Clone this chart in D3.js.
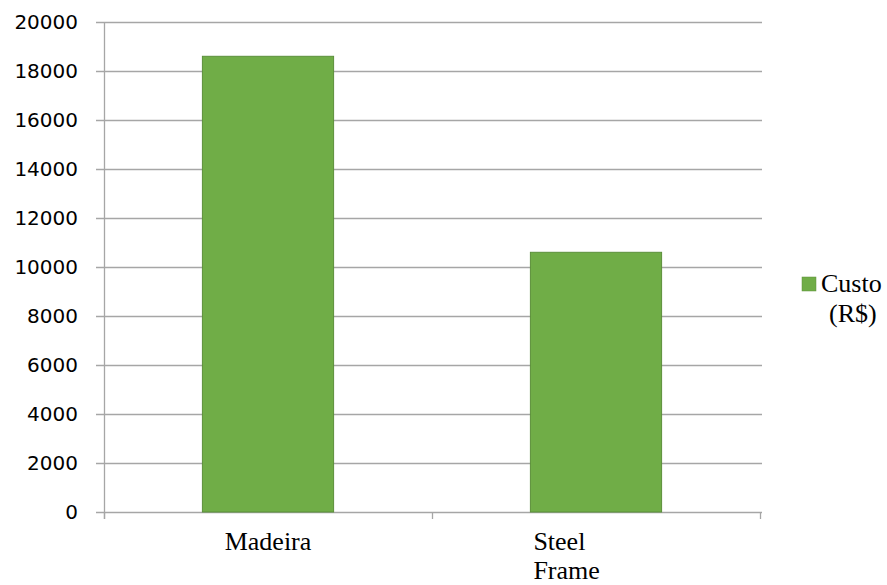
<!DOCTYPE html>
<html>
<head>
<meta charset="utf-8">
<script src="https://cdn.jsdelivr.net/npm/d3@7"></script>
<style>
  body { margin: 0; background: #fff; }
  svg { display: block; }
</style>
</head>
<body>
<div id="chart"></div>
<script>
const categories = [["Madeira"], ["Steel", "Frame"]]
const costs = [18600, 10600]
const yTicks = [0, 2000, 4000, 6000, 8000, 10000, 12000, 14000, 16000, 18000, 20000]
const seriesName = ["Custo", "(R$)"]

const width = 887
const height = 585
const margin = { left: 104, right: 127, top: 22, bottom: 73 }

const svg = d3.select("#chart")
  .append("svg")
  .attr("width", width)
  .attr("height", height)

const x = d3.scaleBand()
  .domain(categories.map((d, i) => i))
  .range([margin.left, width - margin.right])
  .padding(0)

const y = d3.scaleLinear()
  .domain([0, 20000])
  .range([height - margin.bottom, margin.top])

const gridColor = "#a6a6a6"

// gridlines (with the little tick stub left of the axis)
svg.append("g")
  .selectAll("line")
  .data(yTicks)
  .join("line")
  .attr("x1", margin.left - 8)
  .attr("x2", width - margin.right + 2)
  .attr("y1", d => Math.round(y(d)) + 0.5)
  .attr("y2", d => Math.round(y(d)) + 0.5)
  .attr("stroke", gridColor)
  .attr("stroke-width", 1.3)

// y axis line
svg.append("line")
  .attr("x1", margin.left + 0.5)
  .attr("x2", margin.left + 0.5)
  .attr("y1", y(20000))
  .attr("y2", y(0) + 7)
  .attr("stroke", gridColor)
  .attr("stroke-width", 1.3)

// category ticks
const edges = [margin.left].concat(categories.map((d, i) => x(i) + x.bandwidth()))
svg.append("g")
  .selectAll("line")
  .data(edges)
  .join("line")
  .attr("x1", d => Math.round(d) + 0.5)
  .attr("x2", d => Math.round(d) + 0.5)
  .attr("y1", y(0))
  .attr("y2", y(0) + 7)
  .attr("stroke", gridColor)
  .attr("stroke-width", 1.3)

// y tick labels
svg.append("g")
  .selectAll("text")
  .data(yTicks)
  .join("text")
  .attr("x", 78)
  .attr("y", d => y(d))
  .attr("dy", "0.36em")
  .attr("text-anchor", "end")
  .attr("font-family", "'DejaVu Sans', sans-serif")
  .attr("font-size", "20px")
  .attr("fill", "#000")
  .text(d => d)

// bars
const barW = x.bandwidth() * 0.4
svg.append("g")
  .selectAll("rect")
  .data(costs)
  .join("rect")
  .attr("x", (d, i) => x(i) + (x.bandwidth() - barW) / 2)
  .attr("y", d => y(d))
  .attr("width", barW)
  .attr("height", d => y(0) - y(d))
  .attr("fill", "#70ad47")
  .attr("stroke", "#5b8f3a")
  .attr("stroke-width", 1)

// category labels
const catG = svg.append("g")
  .selectAll("text")
  .data(categories)
  .join("text")
  .attr("font-family", "'Liberation Serif', 'Times New Roman', serif")
  .attr("font-size", "26px")
  .attr("fill", "#000")

catG.each(function(lines, i) {
  const t = d3.select(this)
  if (lines.length === 1) {
    t.append("tspan")
      .attr("x", x(i) + x.bandwidth() / 2)
      .attr("y", 550)
      .attr("text-anchor", "middle")
      .text(lines[0])
  } else {
    lines.forEach((ln, k) => {
      t.append("tspan")
        .attr("x", x(i) + (x.bandwidth() - barW) / 2 + 3)
        .attr("y", 550 + k * 29)
        .text(ln)
    })
  }
})

// legend
const legend = svg.append("g")
legend.append("rect")
  .attr("x", 802)
  .attr("y", 277)
  .attr("width", 14)
  .attr("height", 14)
  .attr("fill", "#70ad47")
  .attr("stroke", "#5b8f3a")
  .attr("stroke-width", 0.5)

legend.append("text")
  .attr("font-family", "'Liberation Serif', 'Times New Roman', serif")
  .attr("font-size", "26px")
  .attr("fill", "#000")
  .selectAll("tspan")
  .data(seriesName)
  .join("tspan")
  .attr("x", (d, i) => i === 0 ? 821 : 829)
  .attr("y", (d, i) => 292 + i * 30)
  .text(d => d)
</script>
</body>
</html>
